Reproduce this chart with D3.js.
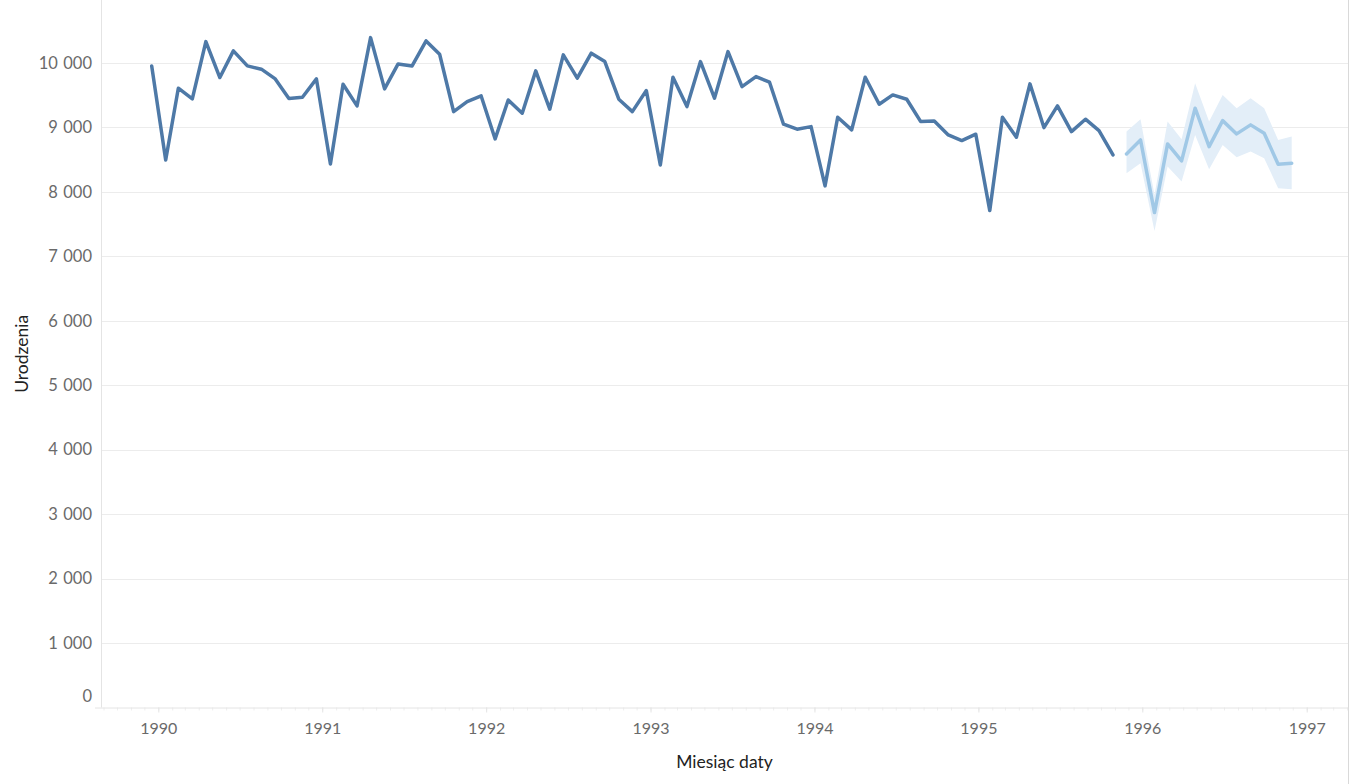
<!DOCTYPE html>
<html>
<head>
<meta charset="utf-8">
<script src="https://cdn.jsdelivr.net/npm/d3@7"></script>
<style>
  html, body { margin: 0; padding: 0; background: #fff; }
  svg { display: block; font-family: Lato, "Noto Sans", sans-serif; }
</style>
</head>
<body>
<div id="chart"></div>
<script>
// Births per month (Urodzenia), Jan 1990 - Nov 1995
var actualStart = new Date(1990, 0, 1);
var actualValues = [
    9955, 8496, 9609, 9443, 10332, 9774, 10188, 9955, 9904, 9758, 9448, 9469,   // 1990
    9753, 8434, 9671, 9334, 10394, 9598, 9986, 9955, 10343, 10136, 9246, 9401,  // 1991
    9489, 8822, 9426, 9221, 9878, 9283, 10126, 9764, 10152, 10022, 9438, 9246,  // 1992
    9572, 8418, 9779, 9324, 10022, 9454, 10177, 9634, 9789, 9702, 9050, 8973,   // 1993
    9013, 8093, 9159, 8962, 9779, 9360, 9505, 9438, 9091, 9101, 8884, 8796,     // 1994
    8895, 7710, 9159, 8848, 9676, 8998, 9334, 8936, 9128, 8951, 8574            // 1995
];

// Forecast, Dec 1995 - Dec 1996, with prediction band
var forecastStart = new Date(1995, 11, 1);
var forecastValues = [8589, 8806, 7679, 8744, 8481, 9299, 8703, 9106, 8900, 9040, 8910, 8429, 8445];
var forecastUpper  = [8936, 9128, 7950, 9091, 8818, 9686, 9091, 9505, 9299, 9454, 9299, 8806, 8858];
var forecastLower  = [8290, 8445, 7394, 8393, 8160, 8884, 8352, 8729, 8538, 8625, 8522, 8057, 8042];

var yTicks = [0, 1000, 2000, 3000, 4000, 5000, 6000, 7000, 8000, 9000, 10000];
var yearTicks = [1990, 1991, 1992, 1993, 1994, 1995, 1996, 1997];

var xTitle = 'Miesiąc daty',
    yTitle = 'Urodzenia';

/**** LAYOUT ****/
var width = 1350,
    height = 784;
var plot = {left: 101, right: 1348, top: 0, bottom: 707.5};

var colActual = '#4e79a7',
    colForecast = '#a0c8e6',
    colBand = '#e3eef8',
    colGrid = '#ececec',
    colAxis = '#e4e4e4',
    colMinor = '#eeeeee',
    colTick = '#6a6a6a',
    colTitle = '#222222';

// build rows from the arrays
var actual = actualValues.map(function(v, i) {
    return {date: d3.timeMonth.offset(actualStart, i), value: v};
});
var forecast = forecastValues.map(function(v, i) {
    return {date: d3.timeMonth.offset(forecastStart, i), value: v, hi: forecastUpper[i], lo: forecastLower[i]};
});

// Scales
var y = d3.scaleLinear().domain([0, 10000]).range([plot.bottom, 63]);

// axis scale: year ticks at Jan 1
var x = d3.scaleTime()
    .domain([new Date(1990, 0, 1), new Date(1997, 0, 1)])
    .range([158.3, 1306.7]);
var xAxisScale = x.copy()
    .domain([x.invert(95), x.invert(plot.right)])
    .range([95, plot.right]);

// mark scale
var xPt = d3.scaleTime()
    .domain([actual[0].date, forecast[forecast.length - 1].date])
    .range([151.7, 1291.7]);

var pl = d3.formatLocale({decimal: ',', thousands: '\u2004', grouping: [3], currency: ['', ' zł']});
var fmt = pl.format(',d');

var svg = d3.select('#chart').append('svg')
    .attr('width', width)
    .attr('height', height);

// right border
svg.append('line')
    .attr('x1', plot.right + 0.5).attr('x2', plot.right + 0.5)
    .attr('y1', 0).attr('y2', height)
    .attr('stroke', '#d9d9d9');

// Gridlines
svg.append('g')
    .selectAll('line')
    .data(yTicks.filter(function(d) { return d > 0; }))
    .enter()
    .append('line')
    .attr('x1', plot.left).attr('x2', plot.right)
    .attr('y1', function(d) { return Math.round(y(d)) + 0.5; })
    .attr('y2', function(d) { return Math.round(y(d)) + 0.5; })
    .attr('stroke', colGrid);

// Y axis line
svg.append('line')
    .attr('x1', plot.left + 0.5).attr('x2', plot.left + 0.5)
    .attr('y1', 0).attr('y2', plot.bottom)
    .attr('stroke', colAxis);

// Y-Axis labels
var yAxis = d3.axisLeft(y).tickValues(yTicks).tickSize(0).tickPadding(9).tickFormat(fmt);
var gy = svg.append('g')
    .attr('transform', 'translate(' + plot.left + ',0)')
    .call(yAxis);
gy.select('.domain').remove();
gy.selectAll('text')
    .attr('font-family', 'Lato, "Noto Sans", sans-serif')
    .attr('font-size', 16.5)
    .attr('fill', colTick)
    .attr('dy', function(d) { return d === 0 ? '-0.35em' : '0.32em'; });

// X-Axis: monthly minor ticks, yearly major ticks
var monthTicks = d3.timeMonth.range(xAxisScale.domain()[0], xAxisScale.domain()[1]);
var gxMinor = svg.append('g')
    .attr('transform', 'translate(0,' + plot.bottom + ')')
    .call(d3.axisBottom(xAxisScale).tickValues(monthTicks).tickSize(3).tickFormat(''));
gxMinor.selectAll('.tick line').attr('stroke', colMinor);
gxMinor.select('.domain').remove();

var gx = svg.append('g')
    .attr('transform', 'translate(0,' + plot.bottom + ')')
    .call(d3.axisBottom(xAxisScale)
        .tickValues(yearTicks.map(function(yr) { return new Date(yr, 0, 1); }))
        .tickSize(5).tickPadding(10)
        .tickFormat(d3.timeFormat('%Y')));
gx.select('.domain').attr('stroke', colAxis).attr('d', 'M95,0.5H' + plot.right);
gx.selectAll('.tick line').attr('stroke', colAxis);
gx.selectAll('text')
    .attr('font-family', 'Lato, "Noto Sans", sans-serif')
    .attr('font-size', 16)
    .attr('fill', colTick);

// Forecast band
var band = d3.area()
    .x(function(d) { return xPt(d.date); })
    .y0(function(d) { return y(d.lo); })
    .y1(function(d) { return y(d.hi); });
svg.append('path')
    .datum(forecast)
    .attr('d', band)
    .attr('fill', colBand);

// Lines
var line = d3.line()
    .x(function(d) { return xPt(d.date); })
    .y(function(d) { return y(d.value); });

svg.append('path')
    .datum(forecast)
    .attr('d', line)
    .attr('fill', 'none')
    .attr('stroke', colForecast)
    .attr('stroke-width', 3.5)
    .attr('stroke-linejoin', 'round')
    .attr('stroke-linecap', 'round');

svg.append('path')
    .datum(actual)
    .attr('d', line)
    .attr('fill', 'none')
    .attr('stroke', colActual)
    .attr('stroke-width', 3.5)
    .attr('stroke-linejoin', 'round')
    .attr('stroke-linecap', 'round');

// Axis titles
svg.append('text')
    .attr('x', (plot.left + plot.right) / 2)
    .attr('y', 768)
    .attr('text-anchor', 'middle')
    .attr('font-size', 17.5)
    .attr('fill', colTitle)
    .text(xTitle);

svg.append('text')
    .attr('transform', 'translate(28,' + ((plot.top + plot.bottom) / 2) + ') rotate(-90)')
    .attr('text-anchor', 'middle')
    .attr('font-size', 17.5)
    .attr('fill', colTitle)
    .text(yTitle);
</script>
</body>
</html>
